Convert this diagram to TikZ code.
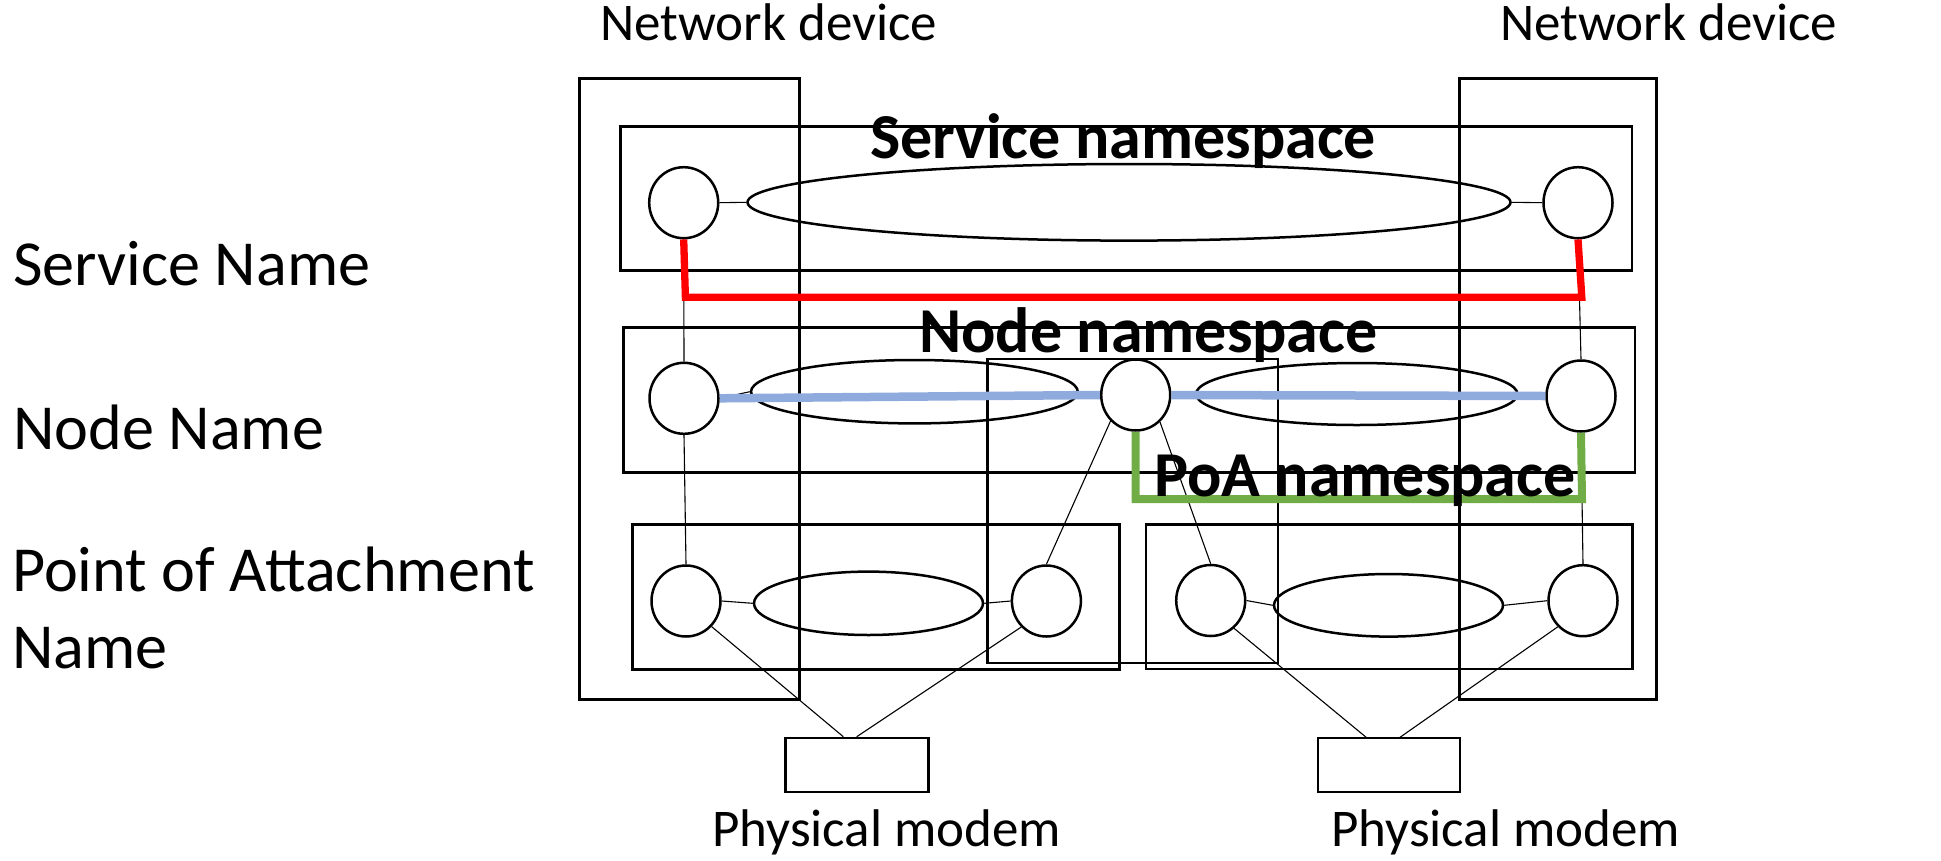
\documentclass[tikz,border=0pt]{standalone}
\usepackage{fontspec}
\setmainfont{Carlito}
\usetikzlibrary{shapes.geometric}
\definecolor{redline}{HTML}{FF0000}
\definecolor{blueline}{HTML}{8FAADC}
\definecolor{greenline}{HTML}{70AD47}
\begin{document}
\begin{tikzpicture}[x=1pt,y=-1pt,
  box/.style={draw, line width=2.6pt, inner sep=0pt, anchor=north west},
  ring/.style={draw, ellipse, line width=2.5pt, inner sep=0pt, minimum width=69pt, minimum height=71pt},
  oval/.style={draw, ellipse, line width=2.5pt, inner sep=0pt},
  thinline/.style={line width=1.1pt},
  redpath/.style={draw=redline, line width=7.3pt},
  bluepath/.style={draw=blueline, line width=8.5pt},
  greenpath/.style={draw=greenline, line width=8pt},
  lab/.style={inner sep=0pt, anchor=base west, font=\fontsize{64.2}{76.6}\selectfont},
  boldlab/.style={inner sep=0pt, anchor=base west, font=\fontsize{64}{77}\selectfont\bfseries},
  smalllab/.style={inner sep=0pt, anchor=base west, font=\fontsize{53}{63}\selectfont}]

\useasboundingbox (0,0) rectangle (1941,860);

% boxes
\node[box, minimum width=220pt, minimum height=621pt] (netL) at (578,77.3) {};
\node[box, minimum width=196.7pt, minimum height=621pt] (netR) at (1458.3,77.3) {};
\node[box, minimum width=1011.1pt, minimum height=144.3pt] (svcbox) at (619.4,125) {};
\node[box, minimum width=1011.2pt, minimum height=145pt] (nodebox) at (622.3,326) {};
\node[box, minimum width=290.5pt, minimum height=304pt] (midbox) at (986,357.7) {};
\node[box, minimum width=487pt, minimum height=145pt] (poabox1) at (631,523.3) {};
\node[box, minimum width=486.7pt, minimum height=144.4pt] (poabox2) at (1144.6,523.3) {};
\node[box, minimum width=143.2pt, minimum height=54pt] (modem1) at (784,736.7) {};
\node[box, minimum width=142pt, minimum height=54pt] (modem2) at (1316.5,736.7) {};

% ovals
\node[oval, minimum width=763pt, minimum height=76.6pt] (es) at (1129,202.3) {};
\node[oval, minimum width=326.8pt, minimum height=63.4pt] (ena) at (914.4,391.7) {};
\node[oval, minimum width=321.4pt, minimum height=62pt] (enb) at (1356.7,394) {};
\node[oval, minimum width=229pt, minimum height=63.4pt] (epa) at (868.5,603.3) {};
\node[oval, minimum width=229pt, minimum height=62.6pt] (epb) at (1388.5,605.3) {};

% circles
\node[ring] (s1) at (683.7,202.7) {};
\node[ring] (s2) at (1578,202.7) {};
\node[ring] (n1) at (684,398.3) {};
\node[ring] (n2) at (1135.7,395) {};
\node[ring] (n3) at (1581,396) {};
\node[ring] (p1) at (686,601) {};
\node[ring] (p2) at (1046.4,601) {};
\node[ring] (p3) at (1210.7,600.5) {};
\node[ring] (p4) at (1583,600.7) {};

% helper coordinates
\coordinate (m1a) at (843.3,736.7);
\coordinate (m1b) at (856.7,736.7);
\coordinate (m2a) at (1367,738);
\coordinate (m2b) at (1399,738);
\coordinate (rl) at (685.4,297.3);
\coordinate (rr) at (1581.8,297.3);
\coordinate (gl) at (1135.7,499);
\coordinate (gr) at (1582,499);

% thin connectors
\draw[thinline] (s1.east) -- (es.west);
\draw[thinline] (es.east) -- (s2.west);
\draw[thinline] (s1.south) -- (n1.north);
\draw[thinline] (s2.south) -- (n3.north);
\draw[thinline] (n1.east) -- (ena.west);
\draw[thinline] (n1.south) -- (p1.north);
\draw[thinline] (n3.south) -- (p4.north);
\draw[thinline] (n2.226) -- (p2.north);
\draw[thinline] (n2.312) -- (p3.north);
\draw[thinline] (p1.east) -- (epa.west);
\draw[thinline] (epa.east) -- (p2.west);
\draw[thinline] (p3.east) -- (epb.west);
\draw[thinline] (epb.east) -- (p4.west);
\draw[thinline] (p1.315) -- (m1a);
\draw[thinline] (p2.226) -- (m1b);
\draw[thinline] (p3.310) -- (m2a);
\draw[thinline] (p4.226) -- (m2b);

% coloured paths
\draw[redpath] (s1.south) -- (rl) -- (rr) -- (s2.south);
\draw[bluepath] (n1.east) -- (n2.west);
\draw[bluepath] (n2.east) -- (n3.west);
\draw[greenpath] (n2.south) -- (gl) -- (gr) -- (n3.south);

% labels
\node[smalllab] (nd1) at (600,40) {Network device};
\node[smalllab] (nd2) at (1500,40) {Network device};
\node[lab] (lsvc) at (13,285) {Service Name};
\node[lab] (lnode) at (13,449.3) {Node Name};
\node[lab] (lpoa1) at (12,591.7) {Point of Attachment};
\node[lab] (lpoa2) at (12,668.3) {Name};
\node[boldlab] (tsvc) at (870,158.3) {Service namespace};
\node[boldlab] (tnode) at (919,352.7) {Node namespace};
\node[boldlab] (tpoa) at (1154,496.7) {PoA namespace};
\node[smalllab] (pm1) at (712,846) {Physical modem};
\node[smalllab] (pm2) at (1331,846) {Physical modem};
\end{tikzpicture}
\end{document}
